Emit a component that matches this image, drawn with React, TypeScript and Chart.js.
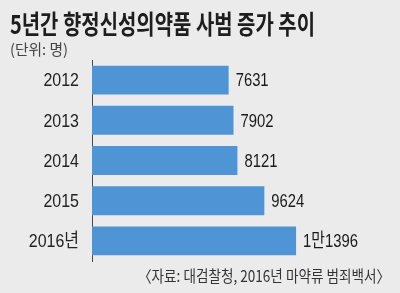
import React, { useEffect, useRef } from "react";
import { Chart, registerables } from "chart.js";

Chart.register(...registerables);

const TITLE = "5년간 향정신성의약품 사범 증가 추이";
const UNIT = "(단위: 명)";
const SOURCE = "〈자료: 대검찰청, 2016년 마약류 범죄백서〉";
const categories = ["2012", "2013", "2014", "2015", "2016년"];
const values = [7631, 7902, 8121, 9624, 11396];
const valueLabels = ["7631", "7902", "8121", "9624", "1만1396"];

const BG = "#ebebeb";
const BAR = "#4f95d5";
const NUM_FONT = "'Liberation Sans', 'Noto Sans CJK KR', sans-serif";
const KR_FONT = "'Noto Sans CJK KR', 'Liberation Sans', sans-serif";

function drawFit(ctx: CanvasRenderingContext2D, text: string, font: string, color: string, x: number, y: number, width: number, align: "left" | "right") {
  ctx.save();
  ctx.font = font;
  ctx.fillStyle = color;
  ctx.textBaseline = "middle";
  ctx.textAlign = "left";
  const w = ctx.measureText(text).width;
  const s = width / w;
  const x0 = align === "left" ? x : x - width;
  ctx.translate(x0, y);
  ctx.scale(s, 1);
  ctx.fillText(text, 0, 0);
  ctx.restore();
}

function drawScaled(ctx: CanvasRenderingContext2D, text: string, font: string, color: string, x: number, y: number, sx: number, align: "left" | "right") {
  ctx.save();
  ctx.font = font;
  ctx.fillStyle = color;
  ctx.textBaseline = "middle";
  ctx.textAlign = align;
  ctx.translate(x, y);
  ctx.scale(sx, 1);
  ctx.fillText(text, 0, 0);
  ctx.restore();
}

const decor = {
  id: "decor",
  beforeDraw(chart: any) {
    const ctx = chart.ctx;
    ctx.save();
    ctx.fillStyle = BG;
    ctx.fillRect(0, 0, chart.width, chart.height);
    ctx.restore();
    drawFit(ctx, TITLE, `bold 26px ${KR_FONT}`, "#1e1e1e", 10, 24, 305, "left");
    drawFit(ctx, UNIT, `15px ${KR_FONT}`, "#444", 10, 49.5, 58, "left");
    drawFit(ctx, SOURCE, `16px ${KR_FONT}`, "#333", 390, 276, 252, "right");
  },
  afterDatasetsDraw(chart: any) {
    const ctx = chart.ctx;
    const meta = chart.getDatasetMeta(0);
    const yScale = chart.scales.y;
    meta.data.forEach((bar: any, i: number) => {
      drawScaled(ctx, valueLabels[i], `19px ${NUM_FONT}`, "#1a1a1a", bar.x + 7, bar.y + 1, 0.78, "left");
    });
    categories.forEach((c, i) => {
      drawScaled(ctx, c, `19px ${NUM_FONT}`, "#222", yScale.right - 13, yScale.getPixelForTick(i) + 1, 0.84, "right");
    });
  },
};

export default function App() {
  const ref = useRef<HTMLCanvasElement>(null);
  useEffect(() => {
    if (!ref.current) return;
    const chart = new Chart(ref.current, {
      type: "bar",
      data: {
        labels: categories,
        datasets: [
          {
            data: values,
            backgroundColor: BAR,
            borderWidth: 0,
            barPercentage: 0.72,
            categoryPercentage: 1,
          },
        ],
      },
      options: {
        indexAxis: "y",
        animation: false,
        responsive: false,
        maintainAspectRatio: false,
        layout: { padding: { top: 60, bottom: 32, left: 0, right: 0 } },
        plugins: {
          legend: { display: false },
          tooltip: { enabled: false },
          title: { display: false },
        },
        scales: {
          x: { display: false, min: 0, max: 17200 },
          y: {
            afterFit(scale: any) {
              scale.width = 92;
            },
            grid: { display: false, drawTicks: false },
            border: { display: true, color: "#4a4a4a", width: 1 },
            ticks: { display: false },
          },
        },
      },
      plugins: [decor],
    });
    return () => chart.destroy();
  }, []);
  return (
    <div style={{ position: "fixed", left: 0, top: 0, width: 400, height: 293, background: BG }}>
      <canvas ref={ref} width={400} height={293} style={{ width: 400, height: 293, display: "block" }} />
    </div>
  );
}
